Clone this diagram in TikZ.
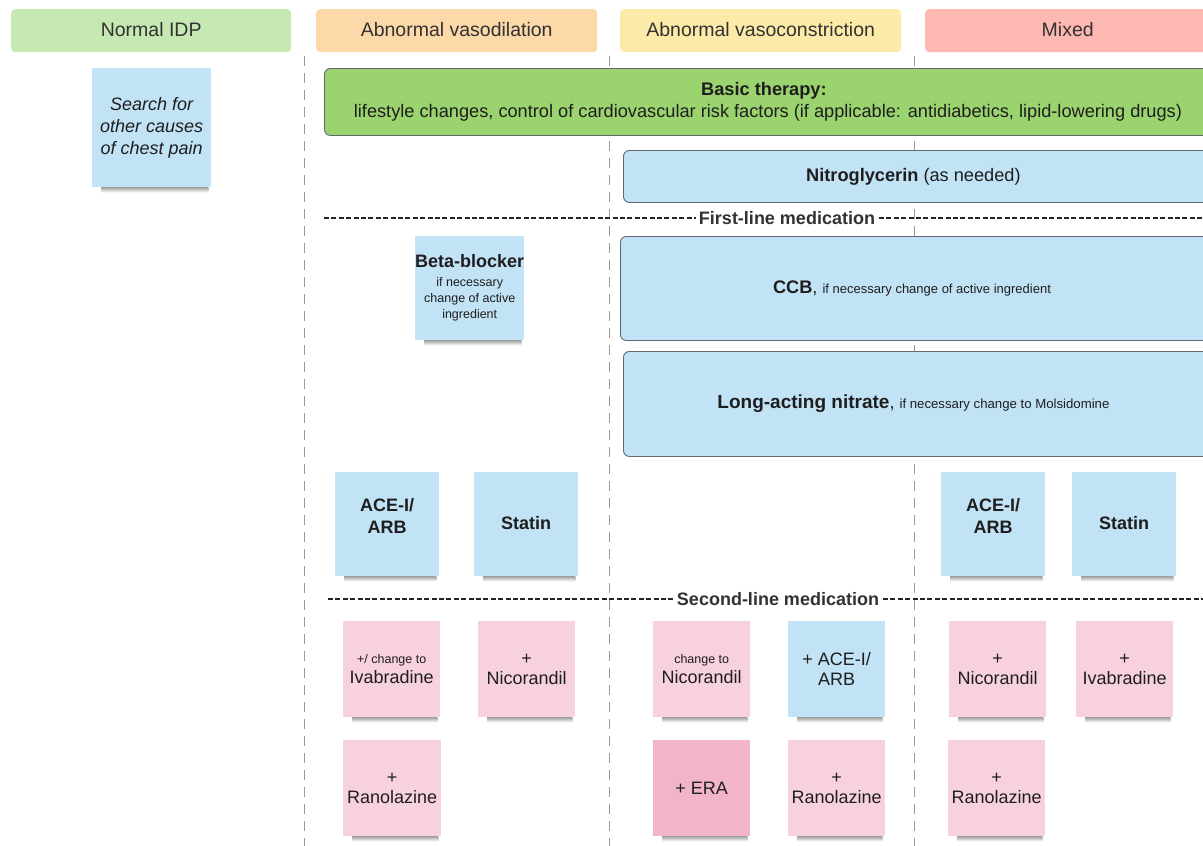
\documentclass[tikz,border=0pt]{standalone}
\usepackage{fontspec}
\setmainfont{Liberation Sans}
\definecolor{hgreen}{RGB}{198,232,178}
\definecolor{horange}{RGB}{253,216,168}
\definecolor{hyellow}{RGB}{252,235,168}
\definecolor{hred}{RGB}{253,185,177}
\definecolor{bgreen}{RGB}{155,212,110}
\definecolor{nblue}{RGB}{194,227,245}
\definecolor{npink}{RGB}{248,209,222}
\definecolor{ndpink}{RGB}{241,180,200}
\definecolor{txt}{RGB}{30,30,30}
\definecolor{htxt}{RGB}{50,50,50}
\definecolor{bord}{RGB}{95,105,115}
\newcommand\notesh[1]{\shade[top color=black!65, bottom color=white, opacity=0.55]
  ([xshift=9pt]#1.south west) rectangle ([xshift=-3pt,yshift=-5pt]#1.south east);}
\begin{document}
\begin{tikzpicture}[x=1pt,y=-1pt,
  header/.style={fill=#1, rounded corners=4pt, inner sep=0pt, anchor=north west,
    minimum height=43pt, text=htxt, font=\fontsize{19.5}{23}\selectfont},
  bigbox/.style={fill=#1, draw=bord, line width=0.9pt, rounded corners=6pt, inner sep=0pt,
    anchor=north west, align=center, text=txt, font=\fontsize{18.2}{22}\selectfont},
  note/.style={fill=#1, inner sep=0pt, anchor=north west, align=center, text=txt,
    minimum width=97pt, minimum height=96pt, font=\fontsize{18}{22}\selectfont},
  vline/.style={draw=black!40, line width=1pt, dash pattern=on 10pt off 7pt},
  hline/.style={draw=black!85, line width=1.3pt, dash pattern=on 5pt off 2.4pt},
  linelabel/.style={fill=white, inner sep=3pt, text=htxt, font=\fontsize{18}{22}\selectfont\bfseries}]
\useasboundingbox (0,0) rectangle (1203,846);
\clip (0,0) rectangle (1203,846);
\fill[white] (0,0) rectangle (1203,846);

% column separators
\draw[vline] (304,56) -- (304,846);
\draw[vline] (609,56) -- (609,846);
\draw[vline] (914,56) -- (914,846);

% headers
\node[header=hgreen, minimum width=280pt] (h1) at (11,9) {\raisebox{2pt}{Normal IDP}};
\node[header=horange, minimum width=281pt] (h2) at (316,9) {\raisebox{2pt}{Abnormal vasodilation}};
\node[header=hyellow, minimum width=281pt] (h3) at (620,9) {\raisebox{2pt}{Abnormal vasoconstriction}};
\node[header=hred, minimum width=285pt, text width=278pt, align=center] (h4) at (925,9) {\raisebox{2pt}{Mixed}};

% Normal IDP
\node[note=nblue, minimum width=119pt, minimum height=119pt, font=\fontsize{18}{22}\selectfont\itshape] (search) at (92,68) {Search for\\other causes\\of chest pain};
\notesh{search}

% basic therapy
\node[bigbox=bgreen, minimum width=890pt, minimum height=67pt] (basic) at (324,68)
  {\textbf{Basic therapy:}\hspace*{11pt}\\lifestyle changes, control of cardiovascular risk factors (if applicable: antidiabetics, lipid-lowering drugs)\hspace*{3pt}};
\node[bigbox=nblue, minimum width=590pt, minimum height=52pt] (nitro) at (623,150)
  {\textbf{Nitroglycerin} (as needed)\hspace*{10pt}};

% first line
\draw[hline] (324,218) -- (1203,218);
\node[linelabel] (first) at (787,218) {First-line medication};

\node[note=nblue, minimum width=103pt, minimum height=104pt, font=\fontsize{12.5}{16}\selectfont] (bb) at (415,236)
  {{\fontsize{18}{22}\selectfont\bfseries Beta-blocker}\\[3pt]if necessary\\change of active\\ingredient};
\notesh{bb}

\node[bigbox=nblue, minimum width=594pt, minimum height=104pt] (ccb) at (620,236)
  {\textbf{CCB}, {\fontsize{13}{16}\selectfont if necessary change of active ingredient}\hspace*{11pt}};
\node[bigbox=nblue, minimum width=591pt, minimum height=105pt] (lan) at (623,351)
  {{\fontsize{19}{22}\selectfont\bfseries Long-acting nitrate}, {\fontsize{13.2}{16}\selectfont if necessary change to Molsidomine}\hspace*{11pt}};

\node[note=nblue, minimum width=104pt, minimum height=104pt, font=\fontsize{18}{22}\selectfont\bfseries] (ace1) at (335,472) {ACE-I/\\ARB\\[-6pt]};
\notesh{ace1}
\node[note=nblue, minimum width=104pt, minimum height=104pt, font=\fontsize{18}{22}\selectfont\bfseries] (statin1) at (474,472) {\raisebox{3pt}{Statin}};
\notesh{statin1}
\node[note=nblue, minimum width=104pt, minimum height=104pt, font=\fontsize{18}{22}\selectfont\bfseries] (ace3) at (941,472) {ACE-I/\\ARB\\[-6pt]};
\notesh{ace3}
\node[note=nblue, minimum width=104pt, minimum height=104pt, font=\fontsize{18}{22}\selectfont\bfseries] (statin3) at (1072,472) {\raisebox{3pt}{Statin}};
\notesh{statin3}

% second line
\draw[hline] (328,599) -- (1203,599);
\node[linelabel] (second) at (778,599) {Second-line medication};

\node[note=npink] (iva1) at (343,621) {{\fontsize{12.5}{16}\selectfont +/ change to}\\[-2pt]Ivabradine};
\notesh{iva1}
\node[note=npink] (nic1) at (478,621) {+\\[-2pt]Nicorandil};
\notesh{nic1}
\node[note=npink] (nic2) at (653,621) {{\fontsize{12.5}{16}\selectfont change to}\\[-2pt]Nicorandil};
\notesh{nic2}
\node[note=nblue] (ace2) at (788,621) {+ ACE-I/\\[-2pt]ARB};
\notesh{ace2}
\node[note=npink] (nic3) at (949,621) {+\\[-2pt]Nicorandil};
\notesh{nic3}
\node[note=npink] (iva3) at (1076,621) {+\\[-2pt]Ivabradine};
\notesh{iva3}

\node[note=npink, minimum width=98pt] (ran1) at (343,740) {+\\[-2pt]Ranolazine};
\notesh{ran1}
\node[note=ndpink] (era) at (653,740) {+ ERA};
\notesh{era}
\node[note=npink] (ran2) at (788,740) {+\\[-2pt]Ranolazine};
\notesh{ran2}
\node[note=npink] (ran3) at (948,740) {+\\[-2pt]Ranolazine};
\notesh{ran3}
\end{tikzpicture}
\end{document}
